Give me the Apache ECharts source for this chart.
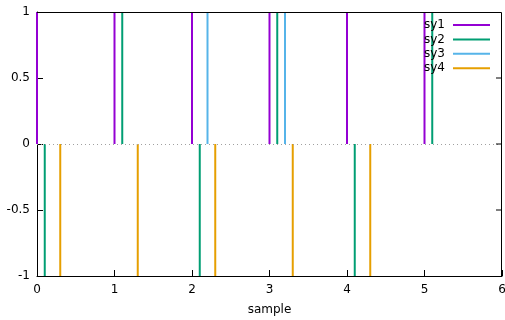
<!DOCTYPE html>
<html>
<head>
<meta charset="utf-8">
<script src="https://cdn.jsdelivr.net/npm/echarts@6/dist/echarts.min.js"></script>
<style>
  html, body { margin: 0; padding: 0; background: #fff; }
  #chart { width: 505px; height: 320px; }
</style>
</head>
<body>
<div id="chart"></div>
<script>
// impulse positions and heights, one pair per series
var x1 = [0, 1, 2, 3, 4, 5]
var sy1 = [1, 1, 1, 1, 1, 1]
var x2 = [0.1, 1.1, 2.1, 3.1, 4.1, 5.1]
var sy2 = [-1, 1, -1, 1, -1, 1]
var x3 = [0.2, 1.2, 2.2, 3.2, 4.2, 5.2]
var sy3 = [0, 0, 1, 1, 0, 0]
var x4 = [0.3, 1.3, 2.3, 3.3, 4.3, 5.3]
var sy4 = [-1, -1, -1, -1, -1, 0]

var names = ['sy1', 'sy2', 'sy3', 'sy4']
var colors = ['#9400d3', '#009e73', '#56b4e9', '#e69f00']
var xs = [x1, x2, x3, x4]
var ys = [sy1, sy2, sy3, sy4]

var xMin = 0, xMax = 6, yMin = -1, yMax = 1

var font = 'DejaVu Sans'

function impulse (params, api) {
  var top = api.coord([api.value(0), api.value(1)])
  var base = api.coord([api.value(0), 0])
  return {
    type: 'line',
    shape: { x1: top[0], y1: base[1], x2: top[0], y2: top[1] },
    style: { stroke: api.visual('color'), lineWidth: 2 }
  }
}

// top and right edge of the plot box, with mirror ticks on the right
function frameBox (params, api) {
  var tl = api.coord([xMin, yMax])
  var tr = api.coord([xMax, yMax])
  var br = api.coord([xMax, yMin])
  var kids = [{
    type: 'polyline',
    shape: { points: [[tl[0], tl[1] + 0.5], [tr[0] - 0.5, tr[1] + 0.5], [br[0] - 0.5, br[1]]] },
    style: { stroke: '#000', lineWidth: 1, fill: null }
  }]
  for (var v = yMin + 0.5; v < yMax; v += 0.5) {
    var p = api.coord([xMax, v])
    kids.push({
      type: 'line',
      shape: { x1: p[0] - 6, y1: p[1], x2: p[0], y2: p[1] },
      style: { stroke: '#000', lineWidth: 1 }
    })
  }
  return { type: 'group', children: kids }
}

var series = names.map(function (n, i) {
  return {
    name: n,
    type: 'custom',
    renderItem: impulse,
    color: colors[i],
    z: 3,
    data: xs[i].map(function (x, k) { return [x, ys[i][k]] })
  }
})

series.push({
  type: 'custom',
  renderItem: frameBox,
  silent: true,
  clip: false,
  z: 5,
  data: [[xMax, yMax]]
})

// dotted zero line
series.unshift({
  type: 'line',
  data: [],
  silent: true,
  z: 1,
  markLine: {
    symbol: 'none',
    silent: true,
    label: { show: false },
    lineStyle: { color: '#a0a0a0', type: [1, 3], width: 1 },
    data: [{ yAxis: 0 }]
  }
})

var chart = echarts.init(document.getElementById('chart'))
chart.setOption({
  animation: false,
  backgroundColor: '#fff',
  grid: { left: 37, right: 3, top: 12, bottom: 44, outerBoundsMode: 'none' },
  legend: {
    data: names,
    orient: 'vertical',
    right: 15,
    top: 18,
    padding: 0,
    align: 'right',
    icon: 'rect',
    itemWidth: 37,
    itemHeight: 2,
    itemGap: 0.4,
    textStyle: { fontFamily: font, fontSize: 12, lineHeight: 14, color: '#000', padding: [0, 3, 0, 0] }
  },
  xAxis: {
    type: 'value', min: xMin, max: xMax, interval: 1,
    axisLine: { show: true, onZero: false, lineStyle: { color: '#000' } },
    axisTick: { show: true, inside: true, length: 6, lineStyle: { color: '#000' } },
    splitLine: { show: false },
    name: 'sample', nameLocation: 'middle', nameGap: 28,
    nameTextStyle: { fontFamily: font, fontSize: 12, color: '#000' },
    axisLabel: { fontFamily: font, fontSize: 12, color: '#000', margin: 8 }
  },
  yAxis: {
    type: 'value', min: yMin, max: yMax, interval: 0.5,
    axisLine: { show: true, onZero: false, lineStyle: { color: '#000' } },
    axisTick: { show: true, inside: true, length: 6, lineStyle: { color: '#000' } },
    splitLine: { show: false },
    axisLabel: { fontFamily: font, fontSize: 12, color: '#000', margin: 7 }
  },
  series: series
})
</script>
</body>
</html>
